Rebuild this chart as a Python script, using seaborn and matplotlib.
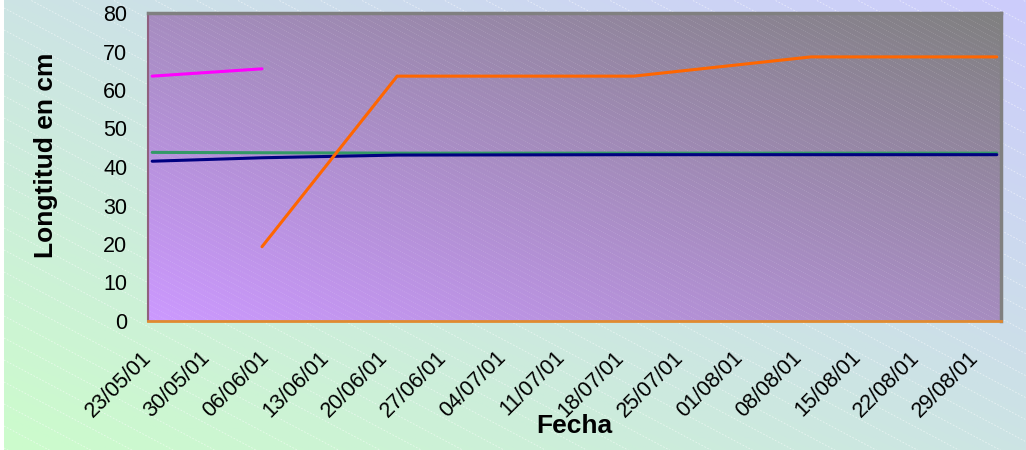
import numpy as np
import pandas as pd
import matplotlib
matplotlib.use("Agg")
import matplotlib.pyplot as plt
import seaborn as sns

# ---------------- data ----------------
fechas_rosa = ["2001-05-23", "2001-06-05"]
rosa = [63.6, 65.5]

fechas = ["2001-05-23", "2001-06-05", "2001-06-21", "2001-07-19", "2001-08-09", "2001-08-31"]
azul = [41.5, 42.4, 43.1, 43.2, 43.2, 43.2]
verde = [43.8, 43.7, 43.6, 43.6, 43.6, 43.6]

fechas_naranja = ["2001-06-05", "2001-06-21", "2001-07-19", "2001-08-09", "2001-08-31"]
naranja = [19.3, 63.6, 63.6, 68.6, 68.6]

tick_fechas = pd.date_range("2001-05-23", "2001-08-29", freq="7D")
tick_labels = [d.strftime("%d/%m/%y") for d in tick_fechas]

# ---------------- style ----------------
sns.set_theme(style="white")
plt.rcParams["font.family"] = ["Liberation Sans", "DejaVu Sans"]

W, H = 1026, 450
fig = plt.figure(figsize=(W / 100, H / 100), dpi=100)
fig.patch.set_facecolor("white")

# figure background gradient (green bottom-left -> lavender top-right)
bg = fig.add_axes([4 / W, 0, 1 - 4 / W, 1], zorder=-10)
n = 200
xx, yy = np.meshgrid(np.linspace(0, 1, n), np.linspace(0, 1, n))
t = (xx + yy) / 2
c0 = np.array([204, 252, 204]) / 255
c1 = np.array([204, 204, 252]) / 255
img = c0[None, None, :] * (1 - t[..., None]) + c1[None, None, :] * t[..., None]
bg.imshow(img, origin="lower", extent=[0, 1, 0, 1], aspect="auto")
# faint diagonal texture
for k in np.arange(-3, 2, 22 / H):
    bg.plot([0, 1], [k + 1, k + 1 - 0.53 * W / H], color="white", lw=0.6,
            ls=(0, (2, 2)), alpha=0.55)
bg.set_xlim(0, 1)
bg.set_ylim(0, 1)
bg.axis("off")

# main axes
x0, x1 = 148, 1001
y0, y1 = 13, 321
aw, ah = x1 - x0, y1 - y0
ax = fig.add_axes([x0 / W, 1 - y1 / H, aw / W, ah / H])

# plot area gradient (purple bottom-left -> gray top-right)
p0 = np.array([204, 153, 255]) / 255
p1 = np.array([128, 128, 128]) / 255
img2 = p0[None, None, :] * (1 - t[..., None]) + p1[None, None, :] * t[..., None]
ax.imshow(img2, origin="lower", extent=[0, 1, 0, 1], aspect="auto",
          transform=ax.transAxes, zorder=0)
slope = 0.53 * aw / ah
for k in np.arange(0, 1 + slope + 0.02, 5.5 / ah):
    ax.plot([0, 1], [k, k - slope], transform=ax.transAxes, color="white",
            lw=0.5, ls=(0, (1.5, 1.5)), alpha=0.18, zorder=0.5, clip_on=True)

half = pd.Timedelta(hours=12)
df_r = pd.DataFrame({"fecha": pd.to_datetime(fechas_rosa) + half, "v": rosa})
df_a = pd.DataFrame({"fecha": pd.to_datetime(fechas) + half, "v": azul})
df_v = pd.DataFrame({"fecha": pd.to_datetime(fechas) + half, "v": verde})
df_n = pd.DataFrame({"fecha": pd.to_datetime(fechas_naranja) + half, "v": naranja})

lw = 2.2
sns.lineplot(data=df_v, x="fecha", y="v", ax=ax, color="#339966", lw=lw, zorder=3)
sns.lineplot(data=df_a, x="fecha", y="v", ax=ax, color="#000080", lw=lw, zorder=4)
sns.lineplot(data=df_n, x="fecha", y="v", ax=ax, color="#ff6600", lw=lw, zorder=5)
sns.lineplot(data=df_r, x="fecha", y="v", ax=ax, color="#ff00ff", lw=lw, zorder=5)

ax.set_xlim(pd.Timestamp("2001-05-23"), pd.Timestamp("2001-09-01"))
ax.set_ylim(0, 80)
ax.set_yticks(range(0, 81, 10))
ax.set_xticks(tick_fechas)
ax.set_xticklabels(tick_labels, rotation=45, ha="right", va="center",
                   rotation_mode="anchor", fontsize=15.5, color="black")
ax.tick_params(axis="x", direction="out", length=6, width=1.2, color="#f0a030", pad=18)
ax.tick_params(axis="y", direction="out", length=7, width=1.2, color="#b05080",
               labelsize=15.5, labelcolor="black", pad=8)
ax.grid(False)

for s in ["top", "right"]:
    ax.spines[s].set_color("#808080")
    ax.spines[s].set_linewidth(2.5)
ax.spines["left"].set_color("#906080")
ax.spines["left"].set_linewidth(1.5)
ax.spines["bottom"].set_color("#e08a30")
ax.spines["bottom"].set_linewidth(2)
ax.spines["bottom"].set_zorder(6)

ax.set_xlabel("Fecha", fontsize=19, fontweight="bold", color="black")
ax.xaxis.set_label_coords(0.5, (321 - 414) / ah)
ax.set_ylabel("Longtitud en cm", fontsize=19, fontweight="bold", color="black")
ax.yaxis.set_label_coords((58 - x0) / aw, (321 - 155) / ah)

fig.savefig("out.png", dpi=100)
